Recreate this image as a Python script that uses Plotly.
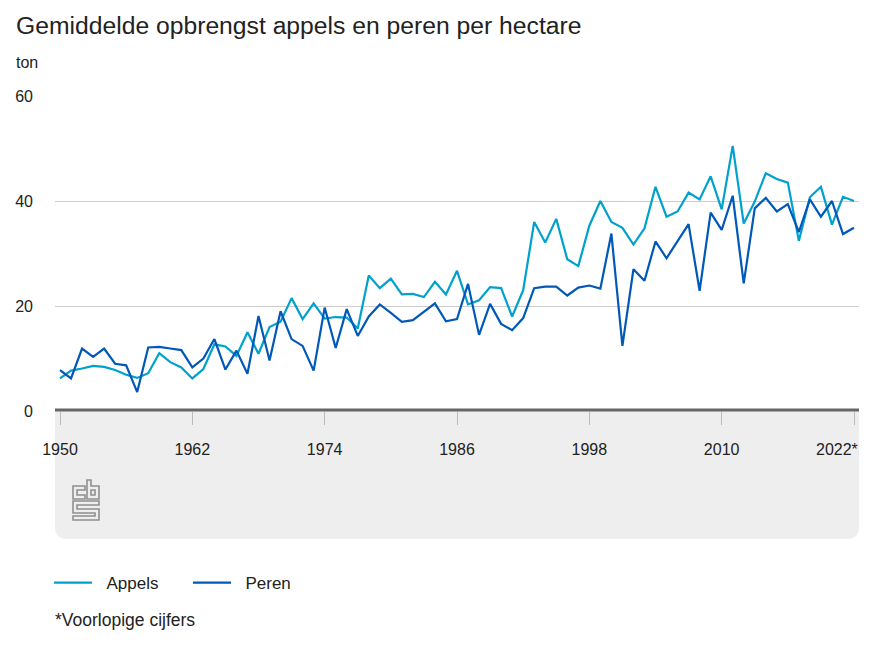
import plotly.graph_objects as go

years = list(range(1950, 2023))
appels = [6.2, 7.7, 8.1, 8.6, 8.4, 7.8, 6.9, 6.3, 7.2, 11.0, 9.3, 8.3, 6.2, 8.0, 12.7, 12.3, 10.5, 15.0,
          10.9, 16.0, 17.0, 21.5, 17.5, 20.5, 17.6, 17.9, 17.8, 15.7, 25.8, 23.4, 25.2, 22.2, 22.3, 21.7,
          24.6, 22.2, 26.7, 20.3, 21.1, 23.6, 23.4, 18.0, 23.0, 36.0, 32.1, 36.6, 28.9, 27.6, 35.3, 40.0,
          36.0, 34.9, 31.7, 34.8, 42.7, 37.0, 38.0, 41.6, 40.3, 44.7, 38.4, 50.5, 35.7, 39.9, 45.3, 44.2,
          43.5, 32.4, 40.7, 42.7, 35.5, 40.8, 40.0]
peren = [7.8, 6.2, 11.9, 10.3, 11.9, 9.0, 8.7, 3.6, 12.1, 12.2, 11.9, 11.6, 8.3, 10.0, 13.7, 7.9, 11.5, 7.1,
         18.1, 9.6, 19.0, 13.7, 12.4, 7.7, 19.7, 12.0, 19.4, 14.3, 18.0, 20.3, 18.7, 17.0, 17.3, 18.9,
         20.5, 17.1, 17.5, 24.2, 14.5, 20.4, 16.6, 15.4, 17.7, 23.4, 23.7, 23.7, 22.0, 23.5, 23.9, 23.3,
         33.8, 12.4, 27.0, 24.8, 32.3, 29.1, 32.4, 35.6, 22.9, 37.8, 34.5, 41.0, 24.3, 38.6, 40.6, 38.0,
         39.4, 34.1, 40.3, 37.0, 40.0, 33.7, 34.9]
tick_years = [1950, 1962, 1974, 1986, 1998, 2010, 2022]
tick_text = ["1950", "1962", "1974", "1986", "1998", "2010", ""]
y_ticks = [0, 20, 40, 60]

W, H = 874, 656
L, R, T, B = 55, 859, 96, 411
FONT = "Liberation Sans, Arial, sans-serif"
TXT = "#222222"


def px(x):
    return (x - L) / (R - L)


def py(y):
    return (B - y) / (B - T)


def path(points, close=True):
    s = "M" + " L".join(f"{px(x):.5f},{py(y):.5f}" for x, y in points)
    return s + (" Z" if close else "")


panel = (f"M{px(55):.5f},{py(411):.5f} L{px(859):.5f},{py(411):.5f} L{px(859):.5f},{py(527):.5f} "
         f"Q{px(859):.5f},{py(539):.5f} {px(847):.5f},{py(539):.5f} L{px(67):.5f},{py(539):.5f} "
         f"Q{px(55):.5f},{py(539):.5f} {px(55):.5f},{py(527):.5f} Z")

logo_parts = [
    # c
    [(73, 486), (85, 486), (85, 490), (77, 490), (77, 495), (85, 495), (85, 499), (73, 499)],
    # b
    [(87, 480), (91, 480), (91, 486), (99, 486), (99, 499), (87, 499)],
    [(91, 490), (95, 490), (95, 495), (91, 495)],
    # s
    [(73, 501), (99, 501), (99, 505), (77, 505), (77, 509), (99, 509), (99, 520), (73, 520),
     (73, 516), (95, 516), (95, 513), (73, 513)],
]

shapes = [dict(type="path", xref="paper", yref="paper", path=panel, fillcolor="#eeeeee",
               line=dict(width=0), layer="below")]
for part in logo_parts:
    shapes.append(dict(type="path", xref="paper", yref="paper", path=path(part),
                       line=dict(color="#8f8f8f", width=1.6), fillcolor="rgba(0,0,0,0)", layer="below"))
shapes.append(dict(type="line", xref="paper", yref="paper", x0=0, x1=1, y0=py(410), y1=py(410),
                   line=dict(color="#666666", width=3), layer="above"))

fig = go.Figure()
fig.add_trace(go.Scatter(x=years, y=appels, name="\u00a0\u00a0Appels", mode="lines",
                         line=dict(color="#00a1cd", width=2.2), cliponaxis=False))
fig.add_trace(go.Scatter(x=years, y=peren, name="\u00a0\u00a0Peren", mode="lines",
                         line=dict(color="#0058b8", width=2.2), cliponaxis=False))


def note(text, x, y, size=16, anchor="left"):
    return dict(text=text, xref="paper", yref="paper", x=px(x), y=py(y), xanchor=anchor, yanchor="middle",
                showarrow=False, font=dict(family=FONT, size=size, color=TXT), align=anchor)


fig.update_layout(
    width=W, height=H, paper_bgcolor="white", plot_bgcolor="rgba(0,0,0,0)",
    margin=dict(l=L, r=W - R, t=T, b=H - B, pad=0),
    font=dict(family=FONT, size=16, color=TXT),
    showlegend=True,
    legend=dict(orientation="h", x=px(49), y=py(565), xanchor="left", yanchor="top",
                bgcolor="rgba(0,0,0,0)", font=dict(family=FONT, size=17, color=TXT),
                itemwidth=38, entrywidth=86, entrywidthmode="pixels"),
    xaxis=dict(range=[1950 - 5 / 11.03, 2022 + 5 / 11.03], tickmode="array", tickvals=tick_years,
               ticktext=tick_text, ticks="outside", ticklen=13, tickwidth=1, tickcolor="#bbbbbb",
               showgrid=False, zeroline=False, showline=False, ticklabelstandoff=11,
               tickfont=dict(family=FONT, size=16, color=TXT), fixedrange=True),
    yaxis=dict(range=[0, 60], tickmode="array", tickvals=y_ticks, showgrid=True, gridcolor="#cccccc",
               gridwidth=1, zeroline=False, showline=False, ticks="", ticklabelstandoff=21,
               tickfont=dict(family=FONT, size=16, color=TXT), fixedrange=True),
    shapes=shapes,
    annotations=[
        note("Gemiddelde opbrengst appels en peren per hectare", 14, 26, 24.7),
        note("ton", 14, 63, 16),
        note("2022*", 860, 449, 16, "right"),
        note("*Voorlopige cijfers", 53, 620, 17.5),
    ],
)

fig.write_html("out.html", config=dict(displayModeBar=False),
               post_script="document.body.style.margin='0';document.body.style.overflow='hidden';")
